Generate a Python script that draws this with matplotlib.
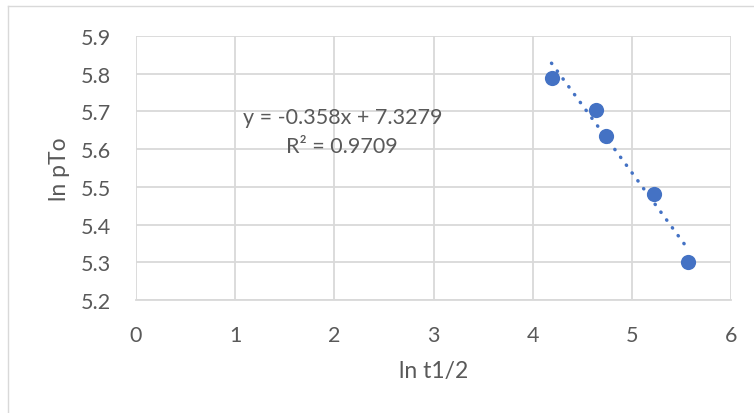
import numpy as np
import matplotlib
matplotlib.use("Agg")
import matplotlib.pyplot as plt
from matplotlib.lines import Line2D

# Data
ln_t_half = [4.19, 4.64, 4.74, 5.22, 5.57]
ln_pTo = [5.789, 5.705, 5.636, 5.482, 5.300]
slope = -0.358
intercept = 7.3279
r2 = 0.9709
x_ticks = [0, 1, 2, 3, 4, 5, 6]
y_ticks = [5.2, 5.3, 5.4, 5.5, 5.6, 5.7, 5.8, 5.9]

plt.rcParams['font.family'] = ['Lato', 'DejaVu Sans']
text_color = '#595959'
blue = '#4472C4'
grid_color = '#D9D9D9'

fig = plt.figure(figsize=(7.54, 4.14), dpi=100)
fig.patch.set_facecolor('white')

# outer chart border (partially visible)
fig.add_artist(Line2D([8/754, 8/754], [0, 1 - 7/414], transform=fig.transFigure,
                      color=grid_color, lw=1.0))
fig.add_artist(Line2D([8/754, 1], [1 - 7/414, 1 - 7/414], transform=fig.transFigure,
                      color=grid_color, lw=1.0))

ax = fig.add_axes([136/754, 1 - 301/414, (731 - 136)/754, (301 - 37)/414])
ax.set_xlim(0, 6)
ax.set_ylim(5.2, 5.9)
ax.set_xticks(x_ticks)
ax.set_yticks(y_ticks)
ax.set_xticklabels([str(v) for v in x_ticks])
ax.set_yticklabels([f"{v:.1f}" for v in y_ticks])
ax.grid(True, color=grid_color, lw=1.3)
ax.set_axisbelow(True)
for s in ['top', 'right', 'left']:
    ax.spines[s].set_visible(False)
ax.spines['bottom'].set_color(grid_color)
ax.spines['bottom'].set_linewidth(1.3)
ax.tick_params(length=0, labelsize=15.5, colors=text_color)
ax.tick_params(axis='x', pad=18)
ax.tick_params(axis='y', pad=18)

ax.scatter(ln_t_half, ln_pTo, s=120, color=blue, zorder=3, linewidths=0)

xs = np.array([min(ln_t_half), max(ln_t_half)])
ax.plot(xs, slope * xs + intercept, color=blue, lw=2.5,
        linestyle=(0, (0.1, 2.7)), dash_capstyle='round', zorder=2)

ax.text(2.08, 5.685, f"y = {slope}x + {intercept}", ha='center', va='center',
        fontsize=15.5, color=text_color)
ax.text(2.08, 5.608, f"R² = {r2}", ha='center', va='center',
        fontsize=15.5, color=text_color)

ax.set_xlabel('ln t1/2', fontsize=16.5, color=text_color, labelpad=11)
ax.set_ylabel('ln pTo', fontsize=16.5, color=text_color, labelpad=8)

fig.savefig('out.png', dpi=100, facecolor='white')
